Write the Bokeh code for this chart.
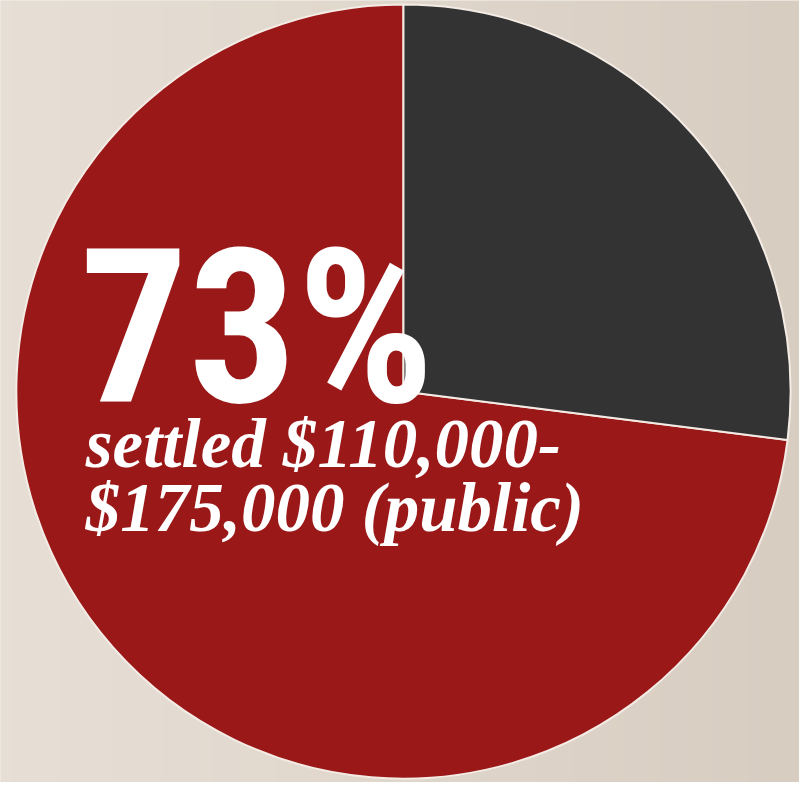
import math
import numpy as np
from bokeh.plotting import figure
from bokeh.models import Range1d
from bokeh.core.properties import value
from bokeh.embed import file_html
from bokeh.resources import INLINE

# data
categories = ["settled $110,000-$175,000 (public)", "other"]
shares = [73, 27]
colors = ["#9b1818", "#333333"]
big_label = "73%"
sub_label_lines = ["settled $110,000-", "$175,000 (public)"]

W, H = 799, 782
XW, YH = 807, 790
p = figure(width=W, height=H, output_backend="svg", toolbar_location=None,
           x_range=Range1d(0, XW), y_range=Range1d(0, YH),
           min_border=0, outline_line_color=None)
p.axis.visible = False
p.grid.visible = False
p.background_fill_color = "#e1d8cd"
p.border_fill_color = "#e1d8cd"

# subtle horizontal background gradient (left lighter, right darker)
left_rgb = np.array([231, 223, 214])
right_rgb = np.array([216, 205, 193])
t = np.linspace(0, 1, 64)
rgb = (left_rgb[None, :] * (1 - t[:, None]) + right_rgb[None, :] * t[:, None]).astype(np.uint32)
row = (255 << 24) | (rgb[:, 2] << 16) | (rgb[:, 1] << 8) | rgb[:, 0]
img = np.tile(row, (2, 1)).astype(np.uint32)
p.image_rgba(image=[img], x=0, y=0, dw=XW, dh=YH)

cx, cy, r = 407, YH - 395, 391

# pie: start at 12 o'clock; the 27% slice runs clockwise, the 73% slice anticlockwise
total = sum(shares)
dark_frac = shares[1] / total
red_frac = shares[0] / total
top = math.pi / 2
starts = [top, top - dark_frac * 2 * math.pi]
ends = [top + red_frac * 2 * math.pi, top]

p.wedge(x=[cx, cx], y=[cy, cy], radius=r, start_angle=starts, end_angle=ends,
        fill_color=colors, line_color="#f3ebe4", line_width=2)

p.text(x=[80], y=[YH - 400 + 0.32 * 215], text=[big_label],
       text_font=value("Roboto Condensed"),
       text_font_style="bold", text_font_size="215px", text_color="white",
       text_baseline="alphabetic", text_align="left")

p.text(x=[86, 86], y=[YH - 470 + 22, YH - 535 + 22], text=sub_label_lines,
       text_font=value("Liberation Serif"), text_font_style="bold italic",
       text_font_size="69px", text_color="white",
       text_baseline="alphabetic", text_align="left")

open("out.html", "w").write(file_html(p, INLINE))
